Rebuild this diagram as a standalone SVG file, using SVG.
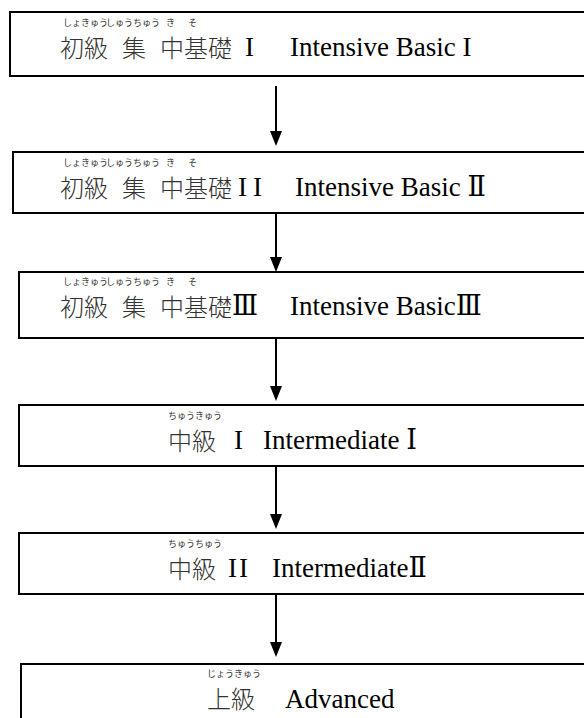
<svg xmlns="http://www.w3.org/2000/svg" width="584" height="718" viewBox="0 0 584 718">
<defs>
<style>
.box{fill:#fff;stroke:#000;stroke-width:2}
.kj{font-family:"Noto Sans CJK JP",sans-serif;font-size:24px;font-weight:300;fill:#333}
.rb{font-family:"Noto Sans CJK JP",sans-serif;font-size:9px;fill:#333}
.en{font-family:"Liberation Serif","DejaVu Serif","Noto Sans CJK JP",serif;font-size:27px;fill:#000}
.cn{stroke:#000;stroke-width:2;fill:none}
.ah{fill:#000}
</style>
</defs>
<rect width="584" height="718" fill="#fff"/>
<g id="connectors">
<line class="cn" x1="276" y1="86" x2="276" y2="132"/>
<path class="ah" d="M270,131 L282,131 L276,146 Z"/>
<line class="cn" x1="276" y1="213" x2="276" y2="258"/>
<path class="ah" d="M270,257 L282,257 L276,272 Z"/>
<line class="cn" x1="276" y1="338" x2="276" y2="387"/>
<path class="ah" d="M270,386 L282,386 L276,401 Z"/>
<line class="cn" x1="276" y1="466" x2="276" y2="515"/>
<path class="ah" d="M270,514 L282,514 L276,529 Z"/>
<line class="cn" x1="276" y1="594" x2="276" y2="643"/>
<path class="ah" d="M270,642 L282,642 L276,657 Z"/>
</g>
<g id="node1">
<rect class="box" x="10" y="12" width="590" height="64"/>
<text class="rb" x="63" y="26">しょきゅう</text>
<text class="rb" x="106" y="26">しゅうちゅう</text>
<text class="rb" x="166" y="26">き</text>
<text class="rb" x="188" y="26">そ</text>
<text class="kj" x="60" y="57">初級</text>
<text class="kj" x="122" y="57">集</text>
<text class="kj" x="160" y="57">中基礎</text>
<text class="en" x="245" y="56">I</text>
<text class="en" x="290" y="56">Intensive Basic I</text>
</g>
<g id="node2">
<rect class="box" x="13" y="152" width="590" height="61"/>
<text class="rb" x="63" y="166">しょきゅう</text>
<text class="rb" x="106" y="166">しゅうちゅう</text>
<text class="rb" x="166" y="166">き</text>
<text class="rb" x="188" y="166">そ</text>
<text class="kj" x="60" y="197">初級</text>
<text class="kj" x="122" y="197">集</text>
<text class="kj" x="160" y="197">中基礎</text>
<text class="en" x="238" y="196" letter-spacing="6">II</text>
<text class="en" x="295" y="196">Intensive Basic Ⅱ</text>
</g>
<g id="node3">
<rect class="box" x="19" y="272" width="590" height="66"/>
<text class="rb" x="63" y="285">しょきゅう</text>
<text class="rb" x="106" y="285">しゅうちゅう</text>
<text class="rb" x="166" y="285">き</text>
<text class="rb" x="188" y="285">そ</text>
<text class="kj" x="60" y="316">初級</text>
<text class="kj" x="122" y="316">集</text>
<text class="kj" x="160" y="316">中基礎</text>
<text class="en" x="232" y="315">Ⅲ</text>
<text class="en" x="290" y="315">Intensive BasicⅢ</text>
</g>
<g id="node4">
<rect class="box" x="19" y="405" width="590" height="61"/>
<text class="rb" x="168" y="419">ちゅうきゅう</text>
<text class="kj" x="168" y="450">中級</text>
<text class="en" x="234" y="449">I</text>
<text class="en" x="263" y="449">Intermediate Ⅰ</text>
</g>
<g id="node5">
<rect class="box" x="19" y="533" width="590" height="61"/>
<text class="rb" x="168" y="547">ちゅうちゅう</text>
<text class="kj" x="168" y="578">中級</text>
<text class="en" x="228" y="577" letter-spacing="2">II</text>
<text class="en" x="272" y="577">IntermediateⅡ</text>
</g>
<g id="node6">
<rect class="box" x="21" y="664" width="590" height="80"/>
<text class="rb" x="207" y="677">じょうきゅう</text>
<text class="kj" x="207" y="708">上級</text>
<text class="en" x="285" y="708">Advanced</text>
</g>
</svg>
